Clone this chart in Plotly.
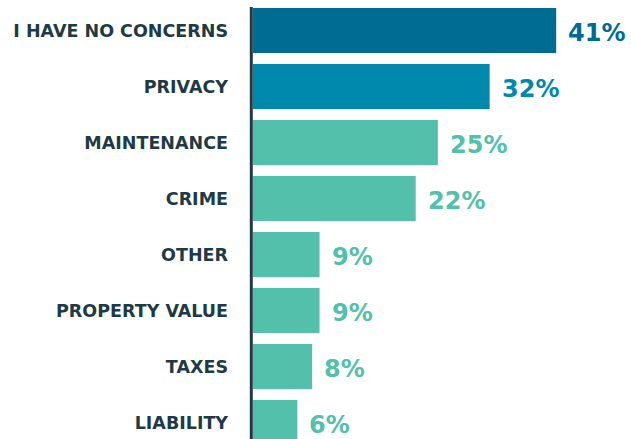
import plotly.graph_objects as go

# Survey responses: main concerns
categories = ["I HAVE NO CONCERNS", "PRIVACY", "MAINTENANCE", "CRIME",
              "OTHER", "PROPERTY VALUE", "TAXES", "LIABILITY"]
values = [41, 32, 25, 22, 9, 9, 8, 6]
bar_colors = ["#006b93", "#0088ad", "#52c0aa", "#52c0aa",
              "#52c0aa", "#52c0aa", "#52c0aa", "#52c0aa"]
value_labels = [f"{v}%" for v in values]

W, H = 631, 439
LEFT = 253
PX_PER_UNIT = 7.395
plot_w = W - LEFT
x_max = plot_w / PX_PER_UNIT

# vertical placement: 56 px per row, first bar centred 30.5 px from top
ROW = 56.0
top_val = -30.5 / ROW
bottom_val = top_val + H / ROW

FONT = "DejaVu Sans"

fig = go.Figure()
fig.add_trace(go.Bar(
    y=categories,
    x=values,
    orientation="h",
    marker=dict(color=bar_colors, line=dict(width=0)),
    hoverinfo="skip",
))

for cat, v, lab, col in zip(categories, values, value_labels, bar_colors):
    fig.add_annotation(
        x=v, y=cat, xref="x", yref="y",
        text=f"<b>{lab}</b>", showarrow=False,
        xanchor="left", yanchor="middle", xshift=10, yshift=-2,
        font=dict(family=FONT, size=24, color=col),
    )

# vertical axis rule to the left of the bars
fig.add_shape(
    type="line", xref="paper", yref="paper",
    x0=-1.7 / plot_w, x1=-1.7 / plot_w, y0=0, y1=1 - 7 / H,
    line=dict(color="#1e3a45", width=3),
)

fig.update_layout(
    width=W, height=H,
    margin=dict(l=LEFT, r=0, t=0, b=0),
    plot_bgcolor="white", paper_bgcolor="white",
    bargap=11 / 56,
    showlegend=False,
    xaxis=dict(range=[0, x_max], visible=False, fixedrange=True),
    yaxis=dict(
        range=[bottom_val, top_val],
        categoryorder="array", categoryarray=categories,
        showgrid=False, zeroline=False, showline=False,
        ticks="", ticklabelstandoff=24,
        tickfont=dict(family=FONT, size=17.5, color="#1e3a45", weight=700),
        fixedrange=True,
    ),
)

fig.write_html("out.html")
